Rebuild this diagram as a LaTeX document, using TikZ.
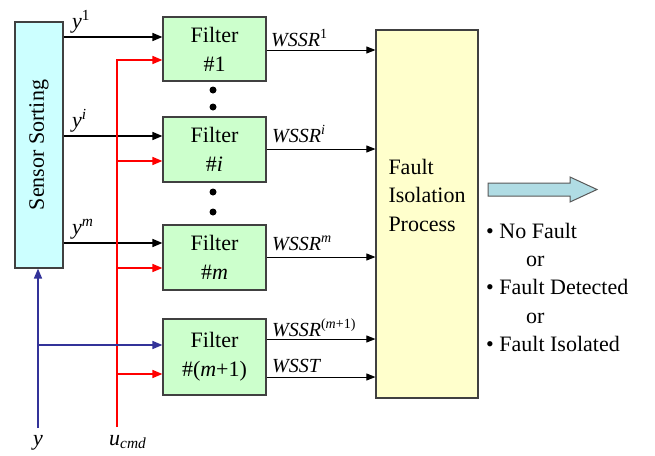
\documentclass[tikz,border=0pt]{standalone}
\usepackage{fontspec}
\setmainfont{LiberationSerif}[Extension=.ttf, UprightFont=*-Regular, ItalicFont=*-Italic, BoldFont=*-Bold, BoldItalicFont=*-BoldItalic]
\usetikzlibrary{arrows.meta}
\definecolor{sensorfill}{RGB}{204,255,255}
\definecolor{filterfill}{RGB}{204,255,204}
\definecolor{faultfill}{RGB}{255,255,204}
\definecolor{busblue}{RGB}{51,51,153}
\definecolor{arrowfill}{RGB}{176,220,228}
\definecolor{edge}{RGB}{64,64,64}
\begin{document}
\begin{tikzpicture}[x=1pt,y=-1pt,
  box/.style={draw=edge, line width=1.2pt, inner sep=0pt, align=center,
    font=\fontsize{22}{29}\selectfont},
  filterbox/.style={box, fill=filterfill, minimum width=103pt},
  tipk/.style={-{Triangle[length=10pt,width=8pt]}},
  tips/.style={-{Triangle[length=9pt,width=7pt]}},
  blk/.style={line width=1.6pt, black, tipk},
  redw/.style={line width=1.6pt, red},
  bluw/.style={line width=1.6pt, busblue},
  wline/.style={line width=0.9pt, black, tips},
  lbl/.style={font=\fontsize{22}{26}\selectfont, inner sep=0pt},
  wlbl/.style={font=\fontsize{20}{24}\selectfont\itshape, inner sep=0pt, anchor=base west},
  dotm/.style={fill=black, circle, inner sep=0pt, minimum size=7pt}
]
\useasboundingbox (0,0) rectangle (655,455);

% Boxes
\node[box, fill=sensorfill, rotate=90, minimum width=246pt, minimum height=48pt] (sensor) at (39,145) {Sensor Sorting};
\node[filterbox, minimum height=64pt] (f1) at (214.5,49) {Filter\\\#1};
\node[filterbox, minimum height=65pt] (fi) at (214.5,149.5) {Filter\\\#\textit{i}};
\node[filterbox, minimum height=65pt] (fm) at (214.5,257.5) {Filter\\\#\textit{m}};
\node[filterbox, minimum height=76pt] (fm1) at (214.5,357) {Filter\\\#(\textit{m}+1)};
\node[box, fill=faultfill, minimum width=102pt, minimum height=368pt] (fip) at (427,214) {};
\node[lbl, align=left, font=\fontsize{22}{28.5}\selectfont] (fiptext) at (427,195) {Fault\\Isolation\\Process};

% Dots
\node[dotm] (d1) at (213,90) {};
\node[dotm] (d2) at (213,107) {};
\node[dotm] (d3) at (213,192) {};
\node[dotm] (d4) at (213,212) {};

% Coordinates
\coordinate (k1) at (100,37);
\coordinate (k2) at (100,136);
\coordinate (k3) at (100,243);
\coordinate (rtop) at (117,60);
\coordinate (r2) at (117,161);
\coordinate (r3) at (117,268);
\coordinate (r4) at (117,374);
\coordinate (rbot) at (117,427);
\coordinate (bbot) at (38,428);
\coordinate (bj) at (38,345);
\coordinate (w1) at (300,50);
\coordinate (w2) at (300,149);
\coordinate (w3) at (300,257);
\coordinate (w4) at (300,339);
\coordinate (w5) at (300,377);

% Sensor outputs
\draw[blk] (sensor.south |- k1) -- (f1.west |- k1);
\draw[blk] (sensor.south |- k2) -- (fi.west |- k2);
\draw[blk] (sensor.south |- k3) -- (fm.west |- k3);

% red u_cmd bus
\draw[redw, tipk] (rbot) -- (rtop) -- (f1.west |- rtop);
\draw[redw, tipk] (r2) -- (fi.west |- r2);
\draw[redw, tipk] (r3) -- (fm.west |- r3);
\draw[redw, tipk] (r4) -- (fm1.west |- r4);

% blue y bus
\draw[bluw, tipk] (bbot) -- (sensor.west -| bbot);
\draw[bluw, tipk] (bj) -- (fm1.west |- bj);

% WSSR lines
\draw[wline] (f1.east |- w1) -- (fip.west |- w1);
\draw[wline] (fi.east |- w2) -- (fip.west |- w2);
\draw[wline] (fm.east |- w3) -- (fip.west |- w3);
\draw[wline] (fm1.east |- w4) -- (fip.west |- w4);
\draw[wline] (fm1.east |- w5) -- (fip.west |- w5);

% labels
\node[lbl, anchor=base west] (ly1) at (72,28) {\textit{y}\textsuperscript{1}};
\node[lbl, anchor=base west] (lyi) at (72,127) {\textit{y}\textsuperscript{\textit{i}}};
\node[lbl, anchor=base west] (lym) at (72,234) {\textit{y}\textsuperscript{\textit{m}}};
\node[lbl, anchor=base] (ly) at (38,445) {\textit{y}};
\node[lbl, anchor=base west] (lu) at (109,445) {\textit{u}\textsubscript{\textit{cmd}}};

\node[wlbl] (lw1) at (271,46.5) {WSSR\textsuperscript{\upshape 1}};
\node[wlbl] (lw2) at (272,142) {WSSR\textsuperscript{i}};
\node[wlbl] (lw3) at (272,250) {WSSR\textsuperscript{m}};
\node[wlbl] (lw4) at (272,336) {WSSR\textsuperscript{\upshape(\itshape m\upshape+1)}};
\node[wlbl] (lw5) at (272,372) {WSST};

% big arrow
\draw[line width=1pt, draw=black!65, fill=arrowfill] (488,183) -- (570,183) -- (570,177) -- (597,189.5) -- (570,202) -- (570,196) -- (488,196) -- cycle;

% outcome list
\node[lbl, anchor=base west] (o1) at (486,238) {• No Fault};
\node[lbl, anchor=base west] (o2) at (526,266.5) {or};
\node[lbl, anchor=base west] (o3) at (486,294.5) {• Fault Detected};
\node[lbl, anchor=base west] (o4) at (526,323) {or};
\node[lbl, anchor=base west] (o5) at (486,351) {• Fault Isolated};
\end{tikzpicture}
\end{document}
